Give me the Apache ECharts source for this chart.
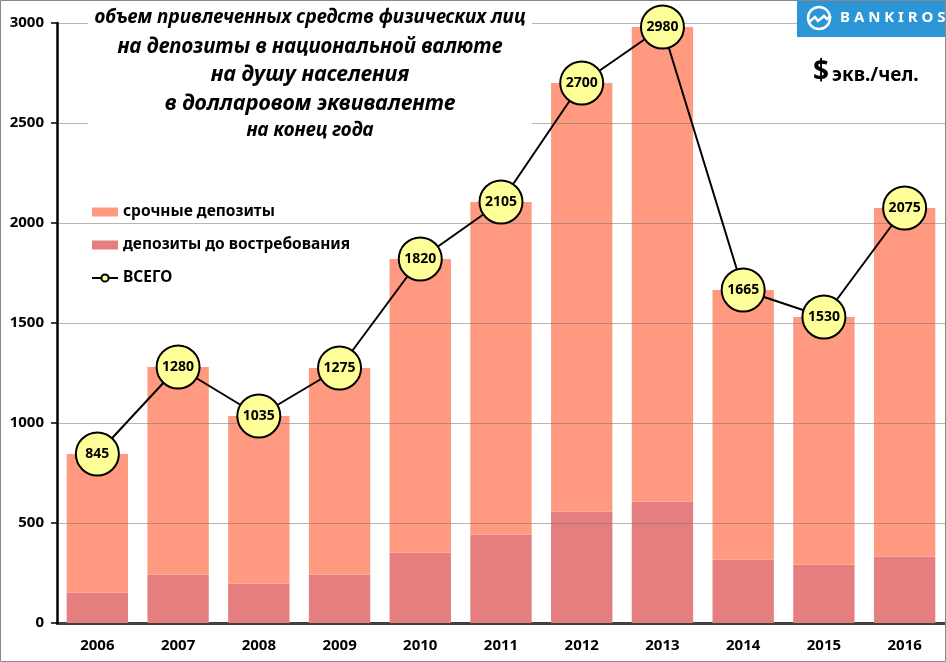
<!DOCTYPE html>
<html><head><meta charset="utf-8">
<script src="https://cdn.jsdelivr.net/npm/echarts@6/dist/echarts.min.js"></script>
<style>html,body{margin:0;padding:0;background:#fff}#c{width:946px;height:662px}</style>
</head><body><div id="c"></div>
<script>
const years = ['2006','2007','2008','2009','2010','2011','2012','2013','2014','2015','2016'];
const totals = [845,1280,1035,1275,1820,2105,2700,2980,1665,1530,2075];
const demand = [153,243,198,243,353,443,558,608,318,293,333];
const termDeposits = [692,1037,837,1032,1467,1662,2142,2372,1347,1237,1742];
const yTicks = [0,500,1000,1500,2000,2500,3000];
const titleLines = ['объем привлеченных средств физических лиц','на депозиты в национальной валюте','на душу населения','в долларовом эквиваленте','на конец года'];
const seriesNames = ['срочные депозиты','депозиты до востребования','ВСЕГО'];

const FONT = 'Noto Sans';
const chart = echarts.init(document.getElementById('c'), null, {renderer:'canvas'});
const titleSizes = [19,20.5,21.5,21.5,19];
const titleY = [18,47,75,104,131];
const graphics = [
  {type:'rect', z:10, shape:{x:88,y:4,width:444,height:145}, style:{fill:'#fff'}},
  {type:'rect', z:10, shape:{x:797,y:0,width:149,height:37}, style:{fill:'#2B95D6'}},
  {type:'circle', z:11, shape:{cx:819,cy:18,r:11}, style:{fill:'none',stroke:'#fff',lineWidth:2.5}},
  {type:'polyline', z:12, shape:{points:[[809,22],[815,17],[818,21],[824,16],[827,19],[831,16]]}, style:{stroke:'#fff',lineWidth:2.5,fill:'none'}},
  {type:'text', z:11, x:840, y:18, style:{text:'B A N K I R O S',fill:'#fff',font:'bold 15px '+FONT,textVerticalAlign:'middle'}},
  {type:'text', z:11, x:813, y:72, style:{text:'$',fill:'#000',font:'bold 28px '+FONT,textVerticalAlign:'middle'}},
  {type:'text', z:11, x:832, y:76, style:{text:'экв./чел.',fill:'#000',font:'bold 19px '+FONT,textVerticalAlign:'middle'}},
  {type:'rect', z:20, shape:{x:0.5,y:0.5,width:945,height:661}, style:{fill:'none',stroke:'#888',lineWidth:1}}
];
titleLines.forEach((t,i)=>{
  graphics.push({type:'text', z:11, x:310, y:titleY[i], style:{text:t, fill:'#000', font:'italic bold '+titleSizes[i]+'px '+FONT, textAlign:'center', textVerticalAlign:'middle'}});
});

chart.setOption({
  animation:false,
  textStyle:{fontFamily:FONT},
  grid:{left:57,right:1,top:23,bottom:39,containLabel:false},
  legend:{
    orient:'vertical', left:86, top:199, itemGap:17, itemWidth:26, itemHeight:9,
    data:[{name:seriesNames[0],icon:'rect'},{name:seriesNames[1],icon:'rect'},{name:seriesNames[2]}],
    textStyle:{fontSize:15.5,fontWeight:'bold',color:'#000',fontFamily:FONT}
  },
  xAxis:{
    type:'category', data:years,
    axisLine:{lineStyle:{color:'#000',width:2.5}},
    axisTick:{show:false},
    axisLabel:{fontSize:15,fontWeight:'bold',color:'#000',margin:15,fontFamily:FONT}
  },
  yAxis:{
    type:'value', min:0, max:3000, interval:500, z:3,
    axisLine:{show:true,lineStyle:{color:'#000',width:2.5}},
    axisTick:{show:true,length:6,lineStyle:{color:'#000',width:1.5}},
    axisLabel:{fontSize:15,fontWeight:'bold',color:'#000',margin:13,fontFamily:FONT,
      formatter:v=>yTicks.includes(v)?String(v):''},
    splitLine:{lineStyle:{color:'rgba(120,120,120,0.55)',width:1}}
  },
  series:[
    {name:seriesNames[1], type:'bar', stack:'a', data:demand, barCategoryGap:'24%',
      itemStyle:{color:'#E57E7E'}},
    {name:seriesNames[0], type:'bar', stack:'a', data:termDeposits,
      itemStyle:{color:'#FF9980'}},
    {name:seriesNames[2], type:'line', data:totals, z:6,
      symbol:'circle', symbolSize:43,
      lineStyle:{color:'#000',width:2},
      itemStyle:{color:'#FFFF99',borderColor:'#000',borderWidth:2},
      label:{show:true,position:'inside',fontSize:14,fontWeight:'bold',color:'#000',fontFamily:FONT}
    }
  ],
  graphic:graphics
});
</script></body></html>
